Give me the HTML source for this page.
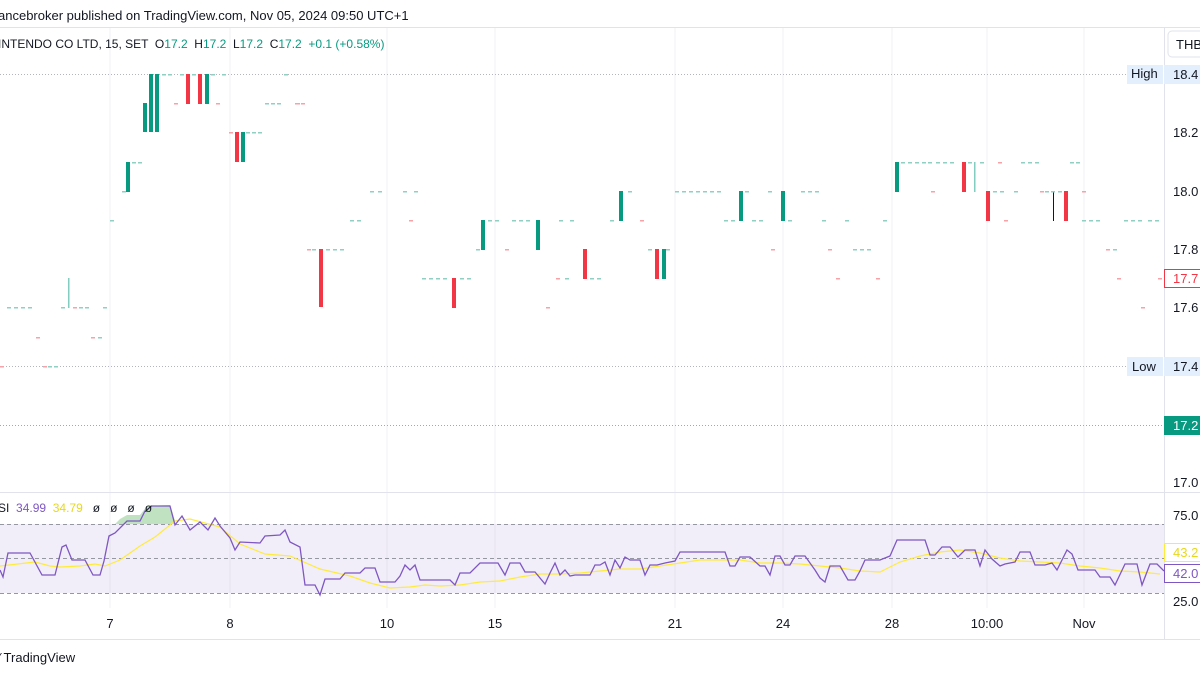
<!DOCTYPE html>
<html><head><meta charset="utf-8"><style>
body{margin:0;width:1200px;height:675px;overflow:hidden;background:#fff;font-family:"Liberation Sans",sans-serif;}
svg{display:block}
text{white-space:pre}
</style></head><body>
<svg width="1200" height="675" viewBox="0 0 1200 675" xmlns="http://www.w3.org/2000/svg" font-family="Liberation Sans, sans-serif" xml:space="preserve">
<rect width="1200" height="675" fill="#fff"/>
<text x="-2" y="20" font-size="13" fill="#131722">ancebroker published on TradingView.com, Nov 05, 2024 09:50 UTC+1</text>
<line x1="0" y1="27.5" x2="1200" y2="27.5" stroke="#e0e3eb"/>
<g stroke="#f0f1f4" stroke-width="1">
<line x1="110" y1="28" x2="110" y2="608"/><line x1="230" y1="28" x2="230" y2="608"/><line x1="387" y1="28" x2="387" y2="608"/><line x1="495" y1="28" x2="495" y2="608"/><line x1="675" y1="28" x2="675" y2="608"/><line x1="783" y1="28" x2="783" y2="608"/><line x1="892" y1="28" x2="892" y2="608"/><line x1="987" y1="28" x2="987" y2="608"/><line x1="1084" y1="28" x2="1084" y2="608"/>
</g>
<line x1="1164.5" y1="28" x2="1164.5" y2="640" stroke="#e0e3eb"/>
<line x1="0" y1="492.5" x2="1200" y2="492.5" stroke="#e0e3eb"/>
<line x1="0" y1="639.5" x2="1200" y2="639.5" stroke="#e0e3eb"/>
<text x="-2" y="48" font-size="12" fill="#131722">INTENDO CO LTD, 15, SET  O<tspan fill="#089981">17.2</tspan>  H<tspan fill="#089981">17.2</tspan>  L<tspan fill="#089981">17.2</tspan>  C<tspan fill="#089981">17.2</tspan>  <tspan fill="#089981">+0.1 (+0.58%)</tspan></text>
<line x1="0" y1="74.5" x2="1128" y2="74.5" stroke="#b2b5be" stroke-dasharray="1,2"/>
<line x1="0" y1="366.5" x2="1128" y2="366.5" stroke="#b2b5be" stroke-dasharray="1,2"/>
<line x1="0" y1="425.5" x2="1164" y2="425.5" stroke="#6cc4b0" stroke-dasharray="1,2"/>
<g fill="#089981">
<rect x="143" y="103" width="4" height="29"/><rect x="149" y="74" width="4" height="58"/><rect x="155" y="74" width="4" height="58"/>
<rect x="126" y="162" width="4" height="30"/><rect x="205" y="74" width="4" height="30"/><rect x="241" y="132" width="4" height="30"/>
<rect x="481" y="220" width="4" height="30"/><rect x="536" y="220" width="4" height="30"/><rect x="619" y="191" width="4" height="30"/><rect x="662" y="249" width="4" height="30"/>
<rect x="739" y="191" width="4" height="30"/><rect x="781" y="191" width="4" height="30"/><rect x="895" y="162" width="4" height="30"/>
<rect x="68" y="278" width="1.5" height="30" opacity=".5"/><rect x="974" y="162" width="1.5" height="30" opacity=".5"/>
</g>
<rect x="1053" y="191" width="1" height="30" fill="#131722"/>
<g fill="#f23645">
<rect x="186" y="74" width="4" height="30"/><rect x="198" y="74" width="4" height="30"/><rect x="235" y="132" width="4" height="30"/>
<rect x="319" y="249" width="4" height="58"/><rect x="452" y="278" width="4" height="30"/><rect x="583" y="249" width="4" height="30"/><rect x="655" y="249" width="4" height="30"/>
<rect x="962" y="162" width="4" height="30"/><rect x="986" y="191" width="4" height="30"/><rect x="1064" y="191" width="4" height="30"/>
</g>
<g fill="#8fd0c2">
<rect x="7" y="307" width="4" height="1.5"/><rect x="14" y="307" width="4" height="1.5"/><rect x="21" y="307" width="4" height="1.5"/><rect x="28" y="307" width="4" height="1.5"/>
<rect x="48" y="366" width="4" height="1.5"/><rect x="54" y="366" width="4" height="1.5"/><rect x="61" y="307" width="4" height="1.5"/><rect x="79" y="307" width="4" height="1.5"/><rect x="85" y="307" width="4" height="1.5"/><rect x="98" y="337" width="4" height="1.5"/><rect x="103" y="307" width="4" height="1.5"/>
<rect x="110" y="220" width="4" height="1.5"/><rect x="122" y="191" width="4" height="1.5"/><rect x="132" y="162" width="4" height="1.5"/><rect x="138" y="162" width="4" height="1.5"/>
<rect x="162" y="74" width="4" height="1.5"/><rect x="168" y="74" width="4" height="1.5"/><rect x="180" y="74" width="4" height="1.5"/><rect x="192" y="74" width="4" height="1.5"/><rect x="211" y="74" width="4" height="1.5"/><rect x="222" y="74" width="4" height="1.5"/><rect x="246" y="132" width="4" height="1.5"/><rect x="252" y="132" width="4" height="1.5"/><rect x="258" y="132" width="4" height="1.5"/>
<rect x="265" y="103" width="4" height="1.5"/><rect x="271" y="103" width="4" height="1.5"/><rect x="277" y="103" width="4" height="1.5"/><rect x="284" y="74" width="4" height="1.5"/><rect x="296" y="103" width="4" height="1.5"/>
<rect x="312" y="249" width="4" height="1.5"/><rect x="326" y="249" width="4" height="1.5"/><rect x="333" y="249" width="4" height="1.5"/><rect x="340" y="249" width="4" height="1.5"/><rect x="350" y="220" width="4" height="1.5"/><rect x="357" y="220" width="4" height="1.5"/><rect x="370" y="191" width="4" height="1.5"/><rect x="378" y="191" width="4" height="1.5"/><rect x="403" y="191" width="4" height="1.5"/><rect x="414" y="191" width="4" height="1.5"/>
<rect x="422" y="278" width="4" height="1.5"/><rect x="429" y="278" width="4" height="1.5"/><rect x="436" y="278" width="4" height="1.5"/><rect x="443" y="278" width="4" height="1.5"/><rect x="460" y="278" width="4" height="1.5"/><rect x="467" y="278" width="4" height="1.5"/><rect x="476" y="249" width="4" height="1.5"/>
<rect x="488" y="220" width="4" height="1.5"/><rect x="495" y="220" width="4" height="1.5"/><rect x="512" y="220" width="4" height="1.5"/><rect x="519" y="220" width="4" height="1.5"/><rect x="526" y="220" width="4" height="1.5"/><rect x="559" y="220" width="4" height="1.5"/><rect x="570" y="220" width="4" height="1.5"/><rect x="565" y="278" width="4" height="1.5"/><rect x="590" y="278" width="4" height="1.5"/><rect x="597" y="278" width="4" height="1.5"/><rect x="610" y="220" width="4" height="1.5"/><rect x="628" y="191" width="4" height="1.5"/><rect x="648" y="249" width="4" height="1.5"/><rect x="666" y="249" width="4" height="1.5"/>
<rect x="675" y="191" width="4" height="1.5"/><rect x="682" y="191" width="4" height="1.5"/><rect x="689" y="191" width="4" height="1.5"/><rect x="696" y="191" width="4" height="1.5"/><rect x="703" y="191" width="4" height="1.5"/><rect x="710" y="191" width="4" height="1.5"/><rect x="717" y="191" width="4" height="1.5"/><rect x="724" y="220" width="4" height="1.5"/><rect x="731" y="220" width="4" height="1.5"/><rect x="745" y="191" width="4" height="1.5"/><rect x="752" y="220" width="4" height="1.5"/><rect x="759" y="220" width="4" height="1.5"/><rect x="768" y="191" width="4" height="1.5"/>
<rect x="788" y="220" width="4" height="1.5"/><rect x="801" y="191" width="4" height="1.5"/><rect x="808" y="191" width="4" height="1.5"/><rect x="815" y="191" width="4" height="1.5"/><rect x="822" y="220" width="4" height="1.5"/><rect x="845" y="220" width="4" height="1.5"/><rect x="853" y="249" width="4" height="1.5"/><rect x="860" y="249" width="4" height="1.5"/><rect x="867" y="249" width="4" height="1.5"/><rect x="883" y="220" width="4" height="1.5"/>
<rect x="901" y="162" width="4" height="1.5"/><rect x="908" y="162" width="4" height="1.5"/><rect x="915" y="162" width="4" height="1.5"/><rect x="922" y="162" width="4" height="1.5"/><rect x="928" y="162" width="4" height="1.5"/><rect x="936" y="162" width="4" height="1.5"/><rect x="943" y="162" width="4" height="1.5"/><rect x="950" y="162" width="4" height="1.5"/><rect x="968" y="162" width="4" height="1.5"/><rect x="980" y="162" width="4" height="1.5"/><rect x="993" y="191" width="4" height="1.5"/><rect x="1000" y="191" width="4" height="1.5"/><rect x="1014" y="191" width="4" height="1.5"/>
<rect x="1021" y="162" width="4" height="1.5"/><rect x="1028" y="162" width="4" height="1.5"/><rect x="1035" y="162" width="4" height="1.5"/><rect x="1045" y="191" width="4" height="1.5"/><rect x="1051" y="191" width="4" height="1.5"/><rect x="1058" y="191" width="4" height="1.5"/><rect x="1070" y="162" width="4" height="1.5"/><rect x="1076" y="162" width="4" height="1.5"/>
<rect x="1082" y="220" width="4" height="1.5"/><rect x="1089" y="220" width="4" height="1.5"/><rect x="1096" y="220" width="4" height="1.5"/><rect x="1113" y="249" width="4" height="1.5"/><rect x="1124" y="220" width="4" height="1.5"/><rect x="1131" y="220" width="4" height="1.5"/><rect x="1138" y="220" width="4" height="1.5"/><rect x="1148" y="220" width="4" height="1.5"/><rect x="1155" y="220" width="4" height="1.5"/>
</g>
<g fill="#f7a1a8">
<rect x="36" y="337" width="4" height="1.5"/><rect x="0" y="366" width="4" height="1.5"/><rect x="43" y="366" width="4" height="1.5"/><rect x="73" y="307" width="4" height="1.5"/><rect x="91" y="337" width="4" height="1.5"/><rect x="174" y="103" width="4" height="1.5"/><rect x="216" y="103" width="4" height="1.5"/><rect x="229" y="132" width="4" height="1.5"/><rect x="295" y="103" width="4" height="1.5"/><rect x="301" y="103" width="4" height="1.5"/><rect x="307" y="249" width="4" height="1.5"/>
<rect x="409" y="220" width="4" height="1.5"/><rect x="505" y="249" width="4" height="1.5"/><rect x="546" y="307" width="4" height="1.5"/><rect x="556" y="278" width="4" height="1.5"/><rect x="640" y="220" width="4" height="1.5"/><rect x="771" y="249" width="4" height="1.5"/><rect x="828" y="249" width="4" height="1.5"/><rect x="836" y="278" width="4" height="1.5"/><rect x="876" y="278" width="4" height="1.5"/>
<rect x="931" y="191" width="4" height="1.5"/><rect x="1004" y="220" width="4" height="1.5"/><rect x="998" y="162" width="4" height="1.5"/><rect x="1040" y="191" width="4" height="1.5"/><rect x="1082" y="191" width="4" height="1.5"/><rect x="1106" y="249" width="4" height="1.5"/><rect x="1117" y="278" width="4" height="1.5"/><rect x="1141" y="307" width="4" height="1.5"/><rect x="1158" y="278" width="4" height="1.5"/>
</g>
<rect x="1168" y="31" width="40" height="26" rx="4" fill="#fff" stroke="#e0e3eb"/>
<text x="1176" y="49" font-size="13" fill="#131722">THB</text>
<g font-size="13" fill="#131722">
<text x="1173" y="137">18.2</text><text x="1173" y="196">18.0</text><text x="1173" y="254">17.8</text><text x="1173" y="312">17.6</text><text x="1173" y="487">17.0</text>
<text x="1173" y="520">75.0</text><text x="1173" y="606">25.0</text>
</g>
<rect x="1127" y="65" width="36" height="19" fill="#e3effd"/><text x="1131" y="78" font-size="13" fill="#131722">High</text>
<rect x="1164" y="65" width="36" height="19" fill="#e3effd"/><text x="1173" y="79" font-size="13" fill="#131722">18.4</text>
<rect x="1127" y="357" width="36" height="19" fill="#e3effd"/><text x="1132" y="371" font-size="13" fill="#131722">Low</text>
<rect x="1164" y="357" width="36" height="19" fill="#e3effd"/><text x="1173" y="371" font-size="13" fill="#131722">17.4</text>
<rect x="1164.5" y="269.5" width="40" height="18" fill="#fff" stroke="#f23645"/><text x="1173" y="283" font-size="13" fill="#f23645">17.7</text>
<rect x="1164" y="416" width="40" height="19" fill="#089981"/><text x="1173" y="430" font-size="13" fill="#fff">17.2</text>
<rect x="0" y="524" width="1164" height="69" fill="#7e57c2" opacity=".1"/>
<g stroke="#9598a1" stroke-dasharray="4,3"><line x1="0" y1="524.5" x2="1164" y2="524.5"/><line x1="0" y1="558.5" x2="1164" y2="558.5"/><line x1="0" y1="593.5" x2="1164" y2="593.5"/></g>
<path d="M115,524 L120,519 L127,515 L140,515 L147,506 L170,505 L176,524 Z" fill="#a5d6a7" opacity=".7"/>
<polyline fill="none" stroke="#ffeb3b" stroke-width="1.2" points="0,566 35,562 50,566 60,567 80,566 95,564 105,566 120,560 140,546 155,537 175,521 190,519 220,527 240,544 265,554 290,556 320,569 350,576 370,583 390,588 410,587 425,585 440,586 460,585 480,582 500,581 520,577 540,574 560,574 580,573 600,571 620,569 640,569 660,566 680,563 700,560 720,560 740,560 760,563 780,563 800,564 820,566 840,568 860,571 880,572 900,562 920,556 940,552 960,550 980,553 1000,558 1020,561 1040,562 1060,563 1080,566 1100,568 1120,571 1140,572 1160,574"/>
<polyline fill="none" stroke="#7e57c2" stroke-width="1.3" points="0,570 3,577 8,553 30,553 42,575 55,575 62,547 66,545 72,560 85,560 93,575 100,575 104,561 109,536 115,533 127,521 140,521 145,511 152,506 170,506 175,525 182,516 190,530 200,522 208,530 215,518 220,526 230,538 235,550 240,542 260,543 265,536 280,535 285,530 290,542 300,547 305,585 315,585 320,595 325,579 340,579 345,573 360,573 365,568 375,568 380,582 395,582 400,576 405,565 410,570 415,565 420,580 450,580 455,585 460,573 470,573 480,563 498,563 505,575 510,563 520,563 525,572 535,572 545,584 550,573 555,563 560,575 565,570 570,576 575,575 580,575 590,575 595,565 600,565 605,562 610,575 615,560 620,568 625,557 630,560 640,560 645,575 650,565 657,565 665,563 675,561 680,552 700,552 725,552 730,566 735,566 740,557 750,557 760,566 765,566 770,575 775,556 780,556 785,565 790,565 795,556 805,556 815,570 820,578 825,582 830,566 840,566 848,580 855,580 860,571 865,560 880,560 890,556 897,540 925,540 930,555 935,555 942,547 950,547 958,557 965,550 975,550 980,566 985,550 992,559 1000,566 1005,564 1015,562 1020,552 1030,552 1035,565 1045,565 1052,563 1057,570 1067,550 1072,554 1078,570 1095,570 1100,577 1110,577 1115,585 1125,564 1137,564 1142,585 1150,564 1157,564 1164,571"/>
<text x="-2" y="512" font-size="12" fill="#131722">SI  <tspan fill="#7e57c2">34.99</tspan>  <tspan fill="#e8d81c">34.79</tspan>   ø   ø   ø   ø</text>
<rect x="1164.5" y="543.5" width="40" height="18" fill="#fff" stroke="#ffeb3b"/><text x="1173" y="557" font-size="13" fill="#e8d81c">43.2</text>
<rect x="1164.5" y="564.5" width="40" height="18" fill="#fff" stroke="#7e57c2"/><text x="1173" y="578" font-size="13" fill="#7e57c2">42.0</text>
<g font-size="13" fill="#131722" text-anchor="middle">
<text x="110" y="628">7</text><text x="230" y="628">8</text><text x="387" y="628">10</text><text x="495" y="628">15</text><text x="675" y="628">21</text><text x="783" y="628">24</text><text x="892" y="628">28</text><text x="987" y="628">10:00</text><text x="1084" y="628">Nov</text>
</g>
<text x="-2" y="662" font-size="13" fill="#131722">⁄ TradingView</text>
</svg>
</body></html>
